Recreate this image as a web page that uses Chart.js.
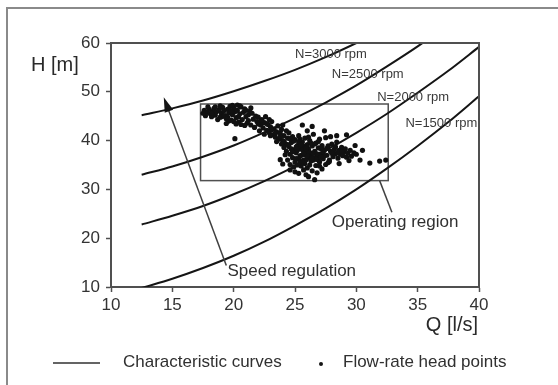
<!DOCTYPE html>
<html>
<head>
<meta charset="utf-8">
<script src="https://cdn.jsdelivr.net/npm/chart.js@4/dist/chart.umd.min.js"></script>
<style>
  html, body { margin: 0; padding: 0; background: #fff; }
  canvas { display: block; }
</style>
</head>
<body>
<canvas id="chart" width="558" height="385"></canvas>
<script>
// flow rate Q [l/s] where the characteristic curves were read
const flowQ = [12.5, 15, 17.5, 20, 22.5, 25, 27.5, 30, 32.5, 35, 37.5, 40];
// head H [m] of each speed curve
const curve3000 = [45.2, 46.6, 48.2, 50.1, 52.2, 54.5, 57.1, 60.0, 63.1];
const curve2500 = [33.0, 34.7, 36.7, 39.0, 41.7, 44.6, 47.8, 51.3, 55.2, 59.3, 63.8];
const curve2000 = [22.8, 24.6, 26.6, 29.0, 31.7, 34.7, 38.0, 41.6, 45.5, 49.8, 54.3, 59.2];
const curve1500 = [9.8, 11.7, 13.9, 16.4, 19.3, 22.6, 26.1, 30.0, 34.3, 38.9, 43.8, 49.1];
const curveNames = ['N=3000 rpm', 'N=2500 rpm', 'N=2000 rpm', 'N=1500 rpm'];
const curveLabelAt = [[25.0, 57.7], [28.0, 53.6], [31.7, 48.9], [34.0, 43.6]];

// measured flow-rate / head points [Q, H]
const headPoints = [
  [17.6,46.2],[17.8,45.8],[18.0,46.4],[18.1,45.5],[18.3,46.0],[18.4,46.6],[18.5,45.2],[18.6,45.9],
  [18.8,46.3],[18.9,44.8],[19.0,45.6],[19.1,46.8],[19.2,46.1],[19.3,45.1],[19.4,44.5],[19.5,46.4],
  [19.6,45.7],[19.7,47.0],[19.8,44.2],[19.9,45.3],[20.0,46.7],[20.1,45.9],[20.2,44.7],[20.3,46.2],
  [20.4,43.8],[20.5,45.5],[20.6,46.9],[20.7,44.3],[20.8,45.8],[20.9,46.5],[21.0,44.9],[21.1,43.6],
  [21.2,45.3],[21.3,46.0],[18.2,44.9],[19.6,44.0],[20.2,43.4],[20.9,43.1],[17.7,45.1],[18.7,44.3],
  [19.4,43.5],[21.5,45.6],[21.6,44.4],[21.8,45.0],[20.1,40.4],[19.9,47.2],[20.5,47.1],[21.4,46.7],
  [17.9,46.9],[18.5,46.9],[19.0,44.9],[19.8,46.0],[20.4,44.9],[21.0,46.2],[21.2,44.1],[18.2,45.6],
  [19.2,45.0],[20.0,43.9],[20.6,43.3],[21.4,43.2],[17.5,45.6],[18.9,47.1],[20.3,47.3],[19.5,44.8],
  [21.9,43.9],[22.0,44.8],[22.2,43.2],[22.3,44.3],[22.4,42.6],[22.5,43.7],[22.6,44.9],[22.7,42.1],
  [22.8,43.3],[22.9,41.6],[23.0,42.8],[23.1,43.9],[23.2,41.2],[23.3,42.4],[23.4,40.7],[23.5,41.8],
  [23.6,43.0],[23.7,40.3],[23.8,41.5],[23.9,42.3],[24.0,40.0],[24.1,41.0],[24.2,39.4],[24.3,42.0],
  [24.4,40.5],[22.1,42.0],[22.9,44.3],[23.5,39.8],[24.0,43.2],[24.5,41.6],[21.7,42.7],[22.5,41.3],
  [22.2,44.0],[22.7,43.5],[23.1,42.2],[23.4,41.5],[23.8,40.8],[24.1,39.8],[22.0,43.4],[23.0,41.0],
  [24.5,38.8],[24.6,37.2],[24.7,39.6],[24.8,36.5],[24.9,38.1],[25.0,40.2],[25.0,35.6],[25.1,37.5],
  [25.2,39.0],[25.3,36.2],[25.3,41.0],[25.4,38.4],[25.5,34.8],[25.5,37.0],[25.6,39.7],[25.7,36.0],
  [25.7,38.8],[25.8,35.3],[25.8,40.5],[25.9,37.6],[26.0,34.4],[26.0,39.2],[26.1,36.6],[26.1,38.2],
  [26.2,35.0],[26.2,40.0],[26.3,37.1],[26.4,33.8],[26.4,38.9],[26.5,36.0],[26.5,41.3],[26.6,37.8],
  [26.7,34.9],[26.7,39.5],[26.8,36.8],[26.9,38.5],[27.0,35.6],[27.0,40.3],[27.1,37.3],[27.2,34.2],
  [27.2,39.0],[27.3,36.3],[27.4,38.0],[27.5,35.1],[27.5,40.6],[27.6,37.0],[27.7,38.9],[27.8,36.0],
  [27.9,37.8],[28.0,39.3],[28.1,36.7],[28.2,38.2],[28.3,37.3],[28.4,39.7],[28.5,36.4],[28.6,38.0],
  [28.7,37.2],[28.8,38.6],[28.9,36.9],[29.0,37.7],[29.1,38.3],[29.2,36.6],[29.3,37.4],[29.5,38.0],
  [29.6,36.8],[29.8,37.5],[24.3,37.8],[24.4,36.0],[24.6,35.1],[24.8,40.8],[24.9,34.6],[25.1,36.3],
  [25.2,38.0],[25.4,35.4],[25.6,38.1],[25.9,36.1],[26.0,38.6],[26.3,35.8],[26.6,39.3],[26.9,36.0],
  [27.1,38.4],[27.4,36.9],[24.7,38.3],[25.3,39.7],[25.8,37.1],[26.2,37.6],[26.8,37.3],[24.1,38.6],
  [24.2,37.1],[23.9,39.3],[23.8,36.1],[24.0,35.2],[25.0,33.6],[25.3,33.3],[25.9,33.0],[26.6,32.0],
  [26.1,32.6],[26.0,42.0],[25.6,43.2],[26.4,42.9],[27.4,42.0],[29.2,41.2],[28.4,41.0],[27.9,40.8],
  [27.0,34.8],[27.8,35.7],[28.6,35.3],[29.4,35.9],[30.3,36.0],[31.1,35.4],[31.9,35.8],[32.4,36.0],
  [30.0,37.2],[30.5,38.0],[29.9,39.0],[25.7,34.0],[26.8,33.4],[24.6,34.0],
  [24.4,39.2],[24.8,37.7],[25.1,38.7],[25.4,36.8],[25.5,39.2],[25.6,35.7],[25.9,38.4],[26.0,36.9],
  [26.3,39.5],[26.5,37.4],[26.7,36.2],[26.9,39.8],[27.1,36.6],[27.3,37.7],[27.6,38.4],[27.7,35.5],
  [28.0,37.4],[28.3,38.7],[28.5,37.6],[28.8,37.8],[24.9,39.9],[25.2,35.0],[25.7,37.4],[26.4,36.4],
  [26.1,40.7],[25.4,40.3],[24.6,40.4],[27.2,38.6]
];

// operating region box [Qmin, Qmax, Hmin, Hmax]
const regionBox = [17.3, 32.6, 31.8, 47.5];
// speed regulation arrow: tail -> tip
const speedArrow = [[19.4, 14.4], [14.3, 48.9]];
const regionPointer = [[31.9, 31.8], [32.9, 25.3]];

const toXY = (qs, hs) => hs.map((h, i) => ({ x: qs[i], y: h }));

const curveStyle = {
  showLine: true, borderColor: '#151515', borderWidth: 2, pointRadius: 0,
  cubicInterpolationMode: 'monotone', fill: false
};

const decor = {
  id: 'decor',
  beforeDatasetsDraw(chart) {
    const { ctx, scales: { x, y } } = chart;
    ctx.save();
    // outer frame
    ctx.strokeStyle = '#8a8a8a';
    ctx.lineWidth = 2;
    ctx.strokeRect(7, 8, 600, 400);
    // operating region
    ctx.strokeStyle = '#505050';
    ctx.lineWidth = 1.5;
    const bx0 = x.getPixelForValue(regionBox[0]), bx1 = x.getPixelForValue(regionBox[1]);
    const by0 = y.getPixelForValue(regionBox[3]), by1 = y.getPixelForValue(regionBox[2]);
    ctx.strokeRect(bx0, by0, bx1 - bx0, by1 - by0);
    ctx.restore();
  },
  afterDatasetsDraw(chart) {
    const { ctx, chartArea: a, scales: { x, y } } = chart;
    ctx.save();
    // plot frame top/right
    ctx.strokeStyle = '#505050';
    ctx.lineWidth = 2;
    ctx.beginPath();
    ctx.moveTo(a.left, a.top);
    ctx.lineTo(a.right, a.top);
    ctx.lineTo(a.right, a.bottom);
    ctx.stroke();

    // speed regulation arrow
    const tx = x.getPixelForValue(speedArrow[0][0]), ty = y.getPixelForValue(speedArrow[0][1]);
    const hx = x.getPixelForValue(speedArrow[1][0]), hy = y.getPixelForValue(speedArrow[1][1]);
    const ang = Math.atan2(hy - ty, hx - tx);
    ctx.strokeStyle = '#404040';
    ctx.lineWidth = 1.5;
    ctx.beginPath();
    ctx.moveTo(tx, ty);
    ctx.lineTo(hx - 12 * Math.cos(ang), hy - 12 * Math.sin(ang));
    ctx.stroke();
    ctx.fillStyle = '#151515';
    ctx.beginPath();
    ctx.moveTo(hx, hy);
    ctx.lineTo(hx - 15 * Math.cos(ang) + 4.5 * Math.sin(ang), hy - 15 * Math.sin(ang) - 4.5 * Math.cos(ang));
    ctx.lineTo(hx - 15 * Math.cos(ang) - 4.5 * Math.sin(ang), hy - 15 * Math.sin(ang) + 4.5 * Math.cos(ang));
    ctx.closePath();
    ctx.fill();

    // operating region pointer
    ctx.beginPath();
    ctx.moveTo(x.getPixelForValue(regionPointer[0][0]), y.getPixelForValue(regionPointer[0][1]));
    ctx.lineTo(x.getPixelForValue(regionPointer[1][0]), y.getPixelForValue(regionPointer[1][1]));
    ctx.stroke();

    // texts inside the plot
    ctx.textBaseline = 'middle';
    ctx.textAlign = 'left';
    ctx.font = '13px "Liberation Sans", Arial, sans-serif';
    ctx.fillStyle = '#3a3a3a';
    curveNames.forEach((t, i) => {
      ctx.fillText(t, x.getPixelForValue(curveLabelAt[i][0]), y.getPixelForValue(curveLabelAt[i][1]));
    });
    ctx.font = '17px "Liberation Sans", Arial, sans-serif';
    ctx.fillStyle = '#303030';
    ctx.fillText('Operating region', x.getPixelForValue(28.0), y.getPixelForValue(23.2));
    ctx.fillText('Speed regulation', x.getPixelForValue(19.5), y.getPixelForValue(13.2));

    // axis titles
    ctx.font = '20px "Liberation Sans", Arial, sans-serif';
    ctx.fillStyle = '#2a2a2a';
    ctx.fillText('H [m]', 31, 65);
    ctx.textAlign = 'right';
    ctx.fillText('Q [l/s]', 478, 325);

    // legend
    ctx.textAlign = 'left';
    ctx.font = '17px "Liberation Sans", Arial, sans-serif';
    ctx.fillStyle = '#303030';
    ctx.strokeStyle = '#303030';
    ctx.lineWidth = 1.5;
    ctx.beginPath();
    ctx.moveTo(53, 363);
    ctx.lineTo(100, 363);
    ctx.stroke();
    ctx.fillText('Characteristic curves', 123, 362);
    ctx.fillStyle = '#151515';
    ctx.beginPath();
    ctx.arc(321, 364, 2, 0, Math.PI * 2);
    ctx.fill();
    ctx.fillStyle = '#303030';
    ctx.fillText('Flow-rate head points', 343, 362);
    ctx.restore();
  }
};

const tickFont = { family: '"Liberation Sans", Arial, sans-serif', size: 17 };

new Chart(document.getElementById('chart'), {
  type: 'scatter',
  data: {
    datasets: [
      { data: headPoints.map(p => ({ x: p[0], y: p[1] })), pointRadius: 2.6, pointBackgroundColor: '#111',
        pointBorderWidth: 0, showLine: false },
      { ...curveStyle, data: toXY(flowQ, curve3000) },
      { ...curveStyle, data: toXY(flowQ, curve2500) },
      { ...curveStyle, data: toXY(flowQ, curve2000) },
      { ...curveStyle, data: toXY(flowQ, curve1500) }
    ]
  },
  options: {
    responsive: false,
    animation: false,
    layout: { padding: { left: 0, top: 43, right: 79, bottom: 0 } },
    plugins: { legend: { display: false }, tooltip: { enabled: false } },
    scales: {
      x: {
        type: 'linear', min: 10, max: 40,
        afterFit: s => { s.height = 98; },
        ticks: { stepSize: 5, font: tickFont, color: '#333', padding: 3, maxRotation: 0 },
        grid: { drawOnChartArea: false, tickLength: 5, tickColor: '#505050', tickWidth: 1.5 },
        border: { color: '#505050', width: 2 }
      },
      y: {
        type: 'linear', min: 10, max: 60,
        afterFit: s => { s.width = 111; },
        ticks: { stepSize: 10, font: tickFont, color: '#333', padding: 6 },
        grid: { drawOnChartArea: false, tickLength: 5, tickColor: '#505050', tickWidth: 1.5 },
        border: { color: '#505050', width: 2 }
      }
    }
  },
  plugins: [decor]
});
</script>
</body>
</html>
